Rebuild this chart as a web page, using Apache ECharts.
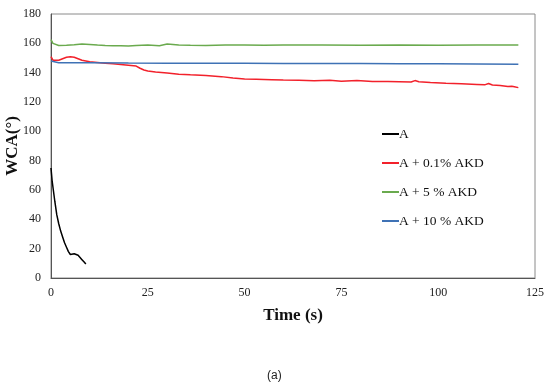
<!DOCTYPE html>
<html><head><meta charset="utf-8">
<script src="https://cdn.jsdelivr.net/npm/echarts@6/dist/echarts.min.js"></script>
<style>html,body{margin:0;padding:0;background:#fff}#c{width:550px;height:387px}</style>
</head><body><div id="c"></div>
<script>
const seriesNames = ['A', 'A + 0.1% AKD', 'A + 5 % AKD', 'A + 10 % AKD'];
const xTicks = [0, 25, 50, 75, 100, 125];
const yTicks = [0, 20, 40, 60, 80, 100, 120, 140, 160, 180];

const tA = [0,0.3,0.6,1,1.5,2,2.5,3,3.5,4,4.5,5,5.5,6,6.5,7,7.5,8,8.5,9];
const vA = [75,66,60,52,43,37,32,28,24,21,18,16,16,16.5,16,15.5,14,12.5,11,9.5];

const tA01 = [0,0.5,1,2,3,4,5,6,7,8,9,10,12,14,16,18,20,22,23,24,25,27,30,33,36,40,44,47,50,53,57,60,64,68,72,75,79,83,87,90,93,94,95,98,102,106,110,112,113,114,116,118,119,120,120.7];
const vA01 = [151,148.5,148,148.5,149.5,150.5,150.8,150.5,149.5,148.5,148,147.5,147,146.5,146,145.5,145,144.5,143,141.8,141.2,140.5,139.8,139,138.5,138,137.3,136.4,135.6,135.5,135.2,135,134.8,134.5,134.8,134.2,134.6,134,134,133.8,133.6,134.6,133.8,133.3,132.8,132.4,132,131.7,132.6,131.6,131.3,130.5,130.8,130.2,129.8];

const tA5 = [0,0.5,1,2,4,6,8,10,12,14,16,18,20,22,25,28,30,33,36,40,45,50,55,60,70,80,90,100,110,120.7];
const vA5 = [162.5,160,159,158.5,158.7,159,159.5,159.2,158.8,158.5,158.3,158.4,158.2,158.6,158.8,158.4,159.5,158.9,158.7,158.6,158.8,158.9,158.7,158.8,158.8,158.7,158.8,158.7,158.8,158.8];

const tA10 = [0,0.5,2,10,20,30,40,50,60,70,80,90,100,110,120.7];
const vA10 = [148,147,146.8,146.8,146.6,146.5,146.5,146.4,146.3,146.3,146.2,146.1,146,145.9,145.8];

const colors = ['#000000', '#f2212b', '#6aaa4e', '#3f72b5'];
const pair = (t, v) => t.map((x, i) => [x, v[i]]);
const allData = [pair(tA, vA), pair(tA01, vA01), pair(tA5, vA5), pair(tA10, vA10)];

const chart = echarts.init(document.getElementById('c'));
chart.setOption({
  animation: false,
  backgroundColor: '#fff',
  grid: { left: 51, right: 15, top: 14, bottom: 109, show: true, borderColor: '#8a8a8a', borderWidth: 1, outerBoundsMode: 'none', containLabel: false },
  xAxis: {
    type: 'value', min: xTicks[0], max: xTicks[xTicks.length - 1], interval: 25,
    axisLine: { show: true, lineStyle: { color: '#555', width: 1 } },
    axisTick: { show: false }, splitLine: { show: false },
    axisLabel: { color: '#222', fontFamily: 'Liberation Serif', fontSize: 12, margin: 9 },
    name: 'Time (s)', nameLocation: 'middle', nameGap: 29, nameMoveOverlap: false,
    nameTextStyle: { fontFamily: 'Liberation Serif', fontWeight: 'bold', fontSize: 17, color: '#111' }
  },
  yAxis: {
    type: 'value', min: yTicks[0], max: yTicks[yTicks.length - 1], interval: 20,
    axisLine: { show: true, lineStyle: { color: '#555', width: 1 } },
    axisTick: { show: false }, splitLine: { show: false },
    axisLabel: { color: '#222', fontFamily: 'Liberation Serif', fontSize: 12, margin: 10 },
    name: 'WCA(°)', nameLocation: 'middle', nameGap: 30, nameMoveOverlap: false,
    nameTextStyle: { fontFamily: 'Liberation Serif', fontWeight: 'bold', fontSize: 17, color: '#111' }
  },
  legend: {
    orient: 'vertical', left: 377, top: 122, itemGap: 15,
    itemWidth: 17, itemHeight: 2, icon: 'rect',
    textStyle: { fontFamily: 'Liberation Serif', fontSize: 13.5, color: '#111', padding: [0, 0, 0, -5] },
    data: seriesNames
  },
  series: seriesNames.map((n, i) => ({
    name: n, type: 'line', data: allData[i], showSymbol: false, symbol: 'none',
    color: colors[i], lineStyle: { width: 1.5, color: colors[i] }
  })),
  graphic: [{
    type: 'text', left: 267, top: 370,
    style: { text: '(a)', fontFamily: 'Liberation Sans', fontSize: 12, fill: '#222' }
  }]
});
</script></body></html>
